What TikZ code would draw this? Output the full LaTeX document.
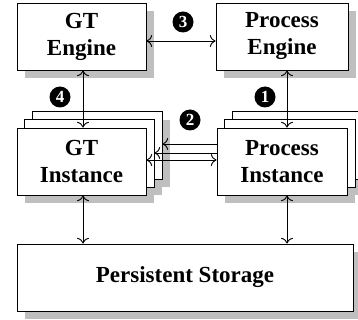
\documentclass[tikz,border=0pt]{standalone}
\usepackage{fontspec}
\setmainfont{Liberation Serif}
\usetikzlibrary{arrows.meta,positioning,calc,backgrounds}

\tikzset{
  box/.style={draw,fill=white,line width=0.9pt,minimum width=129pt,minimum height=67pt,
    align=center,font=\fontsize{23}{27}\selectfont\bfseries},
  shade/.style={fill=black!25},
  copybox/.style={draw,fill=white,line width=0.9pt},
  num/.style={circle,fill=black,text=white,inner sep=0pt,minimum size=21pt,
    font=\fontsize{17}{17}\selectfont\bfseries}
}

\begin{document}
\begin{tikzpicture}[x=1pt,y=-1pt,>={To[scale=1.6]},line width=0.9pt]
    \useasboundingbox (0,0) rectangle (358,320);
    \clip (0,0) rectangle (358,320);

    \node[box] (gteng) at (81.5,36.5) {GT\\Engine};
    \node[box,minimum width=132pt] (proceng) at (282,36.5) {Process\\Engine};
    \node[box] (gtinst) at (81.5,161.5) {GT\\Instance};
    \node[box,minimum width=130pt] (procinst) at (282,161.5) {Process\\Instance};
    \node[box,minimum width=336pt] (store) at (185,277.5) {Persistent Storage};

    % shadows and stacked copies behind the boxes
    \begin{scope}[on background layer]
        \foreach \n in {gteng,proceng,store,gtinst,procinst}
            \fill[shade] ([shift={(8,8)}]\n.north west) rectangle ([shift={(8,8)}]\n.south east);
        \foreach \n in {gtinst,procinst} {
            \fill[shade] ([shift={(24,-8)}]\n.north west) rectangle ([shift={(24,-8)}]\n.south east);
            \fill[shade] ([shift={(16,0)}]\n.north west) rectangle ([shift={(16,0)}]\n.south east);
        }
        \foreach \n in {gtinst,procinst}
            \foreach \d in {16,8}
                \draw[copybox] ([shift={(\d,-\d)}]\n.north west) rectangle ([shift={(\d,-\d)}]\n.south east);
    \end{scope}

    \draw[<->] ([yshift=-4.5pt]gteng.east) -- ([yshift=-4.5pt]proceng.west);
    \draw[<->,transform canvas={xshift=1.5pt}] (gteng) -- (gtinst);
    \draw[<->,transform canvas={xshift=5pt}] (proceng) -- (procinst);
    \draw[<->,transform canvas={xshift=1.5pt}] (gtinst.south) -- (gtinst.south |- store.north);
    \draw[<->,transform canvas={xshift=5pt}] (procinst.south) -- (procinst.south |- store.north);

    \draw[<-] ([xshift=16pt,yshift=17.5pt]gtinst.east) -- ([yshift=17.5pt]procinst.west);
    \draw[<-] ([xshift=8pt,yshift=8.5pt]gtinst.east) -- ([yshift=8.5pt]procinst.west);
    \draw[<->] ([yshift=1.5pt]gtinst.east) -- ([yshift=1.5pt]procinst.west);

    \node[num] (n3) at (183,22) {3};
    \node[num] (n4) at (60,97) {4};
    \node[num] (n1) at (265,97) {1};
    \node[num] (n2) at (190,120) {2};
\end{tikzpicture}
\end{document}
